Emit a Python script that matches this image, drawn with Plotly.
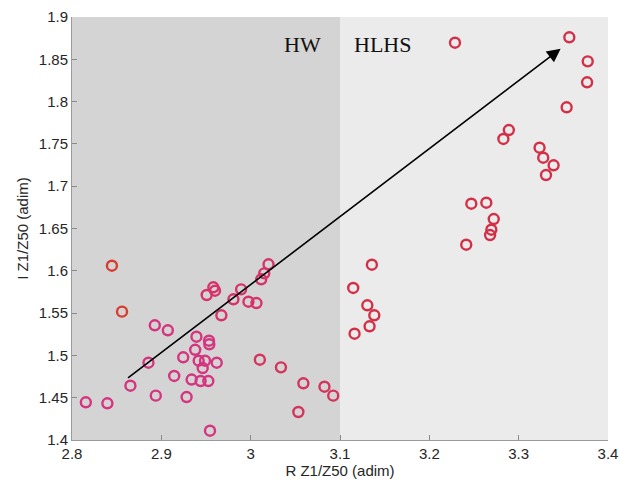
import plotly.graph_objects as go

# R Z1/Z50 and I Z1/Z50 for every measured sample
r_z1_z50 = [
    2.8155, 2.8396, 2.8447, 2.8560, 2.8654, 2.8856, 2.8927, 2.9073, 2.8938, 2.9144,
    2.9245, 2.9283, 2.9339, 2.9393, 2.9379, 2.9418, 2.9489, 2.9620, 2.9463, 2.9440,
    2.9526, 2.9534, 2.9537, 2.9545, 2.9508, 2.9582, 2.9601, 2.9672, 2.9807, 2.9893,
    2.9975, 3.0065, 3.0118, 3.0152, 3.0200, 3.0103, 3.0339, 3.0590, 3.0534, 3.0826,
    3.0924,
    3.1148, 3.1357, 3.1306, 3.1384, 3.1331, 3.1163, 3.2287, 3.2413, 3.2470, 3.2638,
    3.2721, 3.2694, 3.2680, 3.2829, 3.2890, 3.3234, 3.3275, 3.3391, 3.3306, 3.3537,
    3.3567, 3.3773, 3.3766,
]
i_z1_z50 = [
    1.4446, 1.4434, 1.6060, 1.5517, 1.4642, 1.4914, 1.5356, 1.5297, 1.4524, 1.4757,
    1.4978, 1.4508, 1.4715, 1.5221, 1.5066, 1.4937, 1.4937, 1.4914, 1.4851, 1.4697,
    1.4697, 1.5174, 1.5131, 1.4110, 1.5714, 1.5805, 1.5765, 1.5474, 1.5663, 1.5781,
    1.5635, 1.5619, 1.5900, 1.5970, 1.6077, 1.4949, 1.4859, 1.4670, 1.4331, 1.4630,
    1.4524,
    1.5797, 1.6072, 1.5592, 1.5474, 1.5344, 1.5256, 1.8696, 1.6308, 1.6793, 1.6805,
    1.6612, 1.6486, 1.6423, 1.7558, 1.7664, 1.7455, 1.7337, 1.7247, 1.7132, 1.7933,
    1.8760, 1.8476, 1.8228,
]

# Region boundaries and labels
region_names = ["HW", "HLHS"]
region_bounds = [2.8, 3.1, 3.4]

# Trend arrow (start -> end) in data units
arrow_start = (2.861, 1.472)
arrow_end = (3.347, 1.8625)

x_ticks = [2.8, 2.9, 3.0, 3.1, 3.2, 3.3, 3.4]
y_ticks = [1.4, 1.45, 1.5, 1.55, 1.6, 1.65, 1.7, 1.75, 1.8, 1.85, 1.9]

# Edge colour of each circle
MAG = "#d5347f"
ORG = "#d63d2f"
PNK = "#d5336a"
PKR = "#d4335c"
RED = "#d32f47"
edge_colors = (
    [MAG, MAG, ORG, ORG] + [MAG] * 20 + [PNK] * 11 + [PKR] * 6 + [RED] * 23
)

fig = go.Figure()

fig.add_trace(go.Scatter(
    x=r_z1_z50, y=i_z1_z50, mode="markers",
    marker=dict(symbol="circle-open", size=10, color=edge_colors,
                line=dict(width=2.4, color=edge_colors)),
    showlegend=False, hoverinfo="x+y",
))

region_fills = ["#d4d4d4", "#ebebeb"]
for k in range(2):
    fig.add_shape(type="rect", xref="x", yref="y",
                  x0=region_bounds[k], x1=region_bounds[k + 1], y0=1.4, y1=1.9,
                  fillcolor=region_fills[k], line=dict(width=0), layer="below")

label_x = [3.0575, 3.1478]
for name, lx in zip(region_names, label_x):
    fig.add_annotation(x=lx, y=1.867, text=name, showarrow=False,
                       xref="x", yref="y",
                       font=dict(family="Liberation Serif", size=22, color="#111111"))

fig.add_annotation(
    x=arrow_end[0], y=arrow_end[1], ax=arrow_start[0], ay=arrow_start[1],
    xref="x", yref="y", axref="x", ayref="y", text="",
    showarrow=True, arrowhead=2, arrowsize=1.7, arrowwidth=1.6, arrowcolor="#000000",
)

axis_font = dict(family="Liberation Sans, Arial", size=15, color="#262626")
fig.update_xaxes(
    range=[2.8, 3.4], tickvals=x_ticks, ticktext=["2.8", "2.9", "3", "3.1", "3.2", "3.3", "3.4"],
    ticks="inside", ticklen=5, tickcolor="#8a8a8a", showline=True, linecolor="#9a9a9a",
    linewidth=1, showgrid=False, zeroline=False, tickfont=axis_font, automargin=False,
    title=dict(text="R Z1/Z50 (adim)", font=axis_font, standoff=4),
)
fig.update_yaxes(
    range=[1.4, 1.9], tickvals=y_ticks,
    ticktext=["1.4", "1.45", "1.5", "1.55", "1.6", "1.65", "1.7", "1.75", "1.8", "1.85", "1.9"],
    ticks="inside", ticklen=5, tickcolor="#8a8a8a", showline=True, linecolor="#9a9a9a",
    linewidth=1, showgrid=False, zeroline=False, tickfont=axis_font, automargin=False,
    title=dict(text="I Z1/Z50 (adim)", font=axis_font, standoff=6),
)

fig.update_layout(
    width=619, height=485,
    margin=dict(l=72, r=11, t=17, b=45),
    paper_bgcolor="#ffffff", plot_bgcolor="#ebebeb",
)

fig.write_html("out.html")
